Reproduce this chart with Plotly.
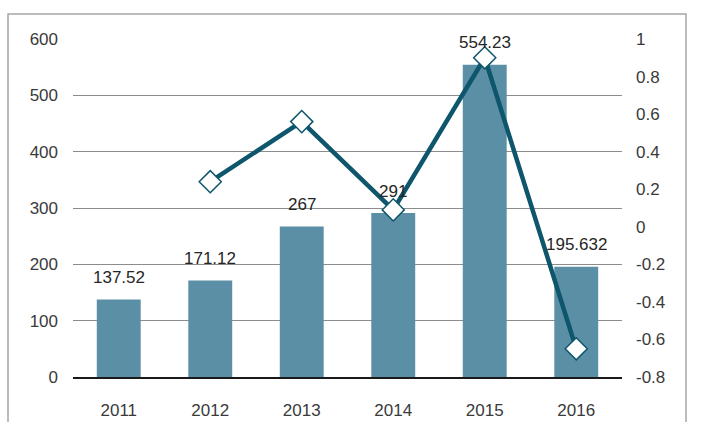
import plotly.graph_objects as go

years = ["2011", "2012", "2013", "2014", "2015", "2016"]
values = [137.52, 171.12, 267, 291, 554.23, 195.632]
value_labels = ["137.52", "171.12", "267", "291", "554.23", "195.632"]
growth_years = ["2012", "2013", "2014", "2015", "2016"]
growth = [0.24, 0.56, 0.09, 0.90, -0.65]

left_ticks = [0, 100, 200, 300, 400, 500, 600]
right_ticks = [-0.8, -0.6, -0.4, -0.2, 0, 0.2, 0.4, 0.6, 0.8, 1]
right_tick_text = ["-0.8", "-0.6", "-0.4", "-0.2", "0", "0.2", "0.4", "0.6", "0.8", "1"]

W, H = 720, 422
ml, mr, mt, mb = 73, 98, 39, 45
pw, ph = W - ml - mr, H - mt - mb

font = dict(family="Arial, Liberation Sans", size=17, color="#3A3A3A")

fig = go.Figure()
fig.add_trace(go.Bar(x=years, y=values, marker=dict(color="#5B8FA6", line=dict(width=0)),
                     hoverinfo="skip", showlegend=False))
fig.add_trace(go.Scatter(x=growth_years, y=growth, yaxis="y2", mode="lines+markers",
                         line=dict(color="#0E566B", width=4.5),
                         marker=dict(symbol="diamond", size=17, color="white",
                                     line=dict(color="#0E566B", width=1.5)),
                         hoverinfo="skip", showlegend=False))

for i, (v, t) in enumerate(zip(values, value_labels)):
    fig.add_annotation(x=i, y=v, xref="x", yref="y", text=t, showarrow=False,
                       yanchor="middle", yshift=22,
                       font=dict(family="Arial, Liberation Sans", size=17, color="#262626"))

def px_x(p):
    return (p - ml) / pw

def px_y(p):
    return (H - mb - p) / ph

fig.add_shape(type="rect", xref="paper", yref="paper",
              x0=px_x(8), x1=px_x(686), y0=px_y(440), y1=px_y(14),
              line=dict(color="#A6A6A6", width=1.5), layer="below")

fig.update_layout(
    width=W, height=H,
    margin=dict(l=ml, r=mr, t=mt, b=mb, autoexpand=False),
    paper_bgcolor="white", plot_bgcolor="white",
    bargap=0.52,
    font=font,
    xaxis=dict(type="category", range=[-0.5, 5.5], showgrid=False, showline=True,
               linecolor="#1a1a1a", linewidth=1.5, ticks="", ticklabelstandoff=17,
               tickfont=font, zeroline=False, automargin=False),
    yaxis=dict(range=[0, 600], tickvals=left_ticks, showgrid=True, gridcolor="#8C8C8C",
               gridwidth=1.2, zeroline=False, showline=False, ticks="",
               ticklabelstandoff=14, tickfont=font, automargin=False),
    yaxis2=dict(range=[-0.8, 1], tickvals=right_ticks, ticktext=right_tick_text,
                overlaying="y", side="right", showgrid=False, zeroline=False,
                showline=False, ticks="", ticklabelstandoff=13, tickfont=font,
                automargin=False),
)

fig.write_html("out.html")
